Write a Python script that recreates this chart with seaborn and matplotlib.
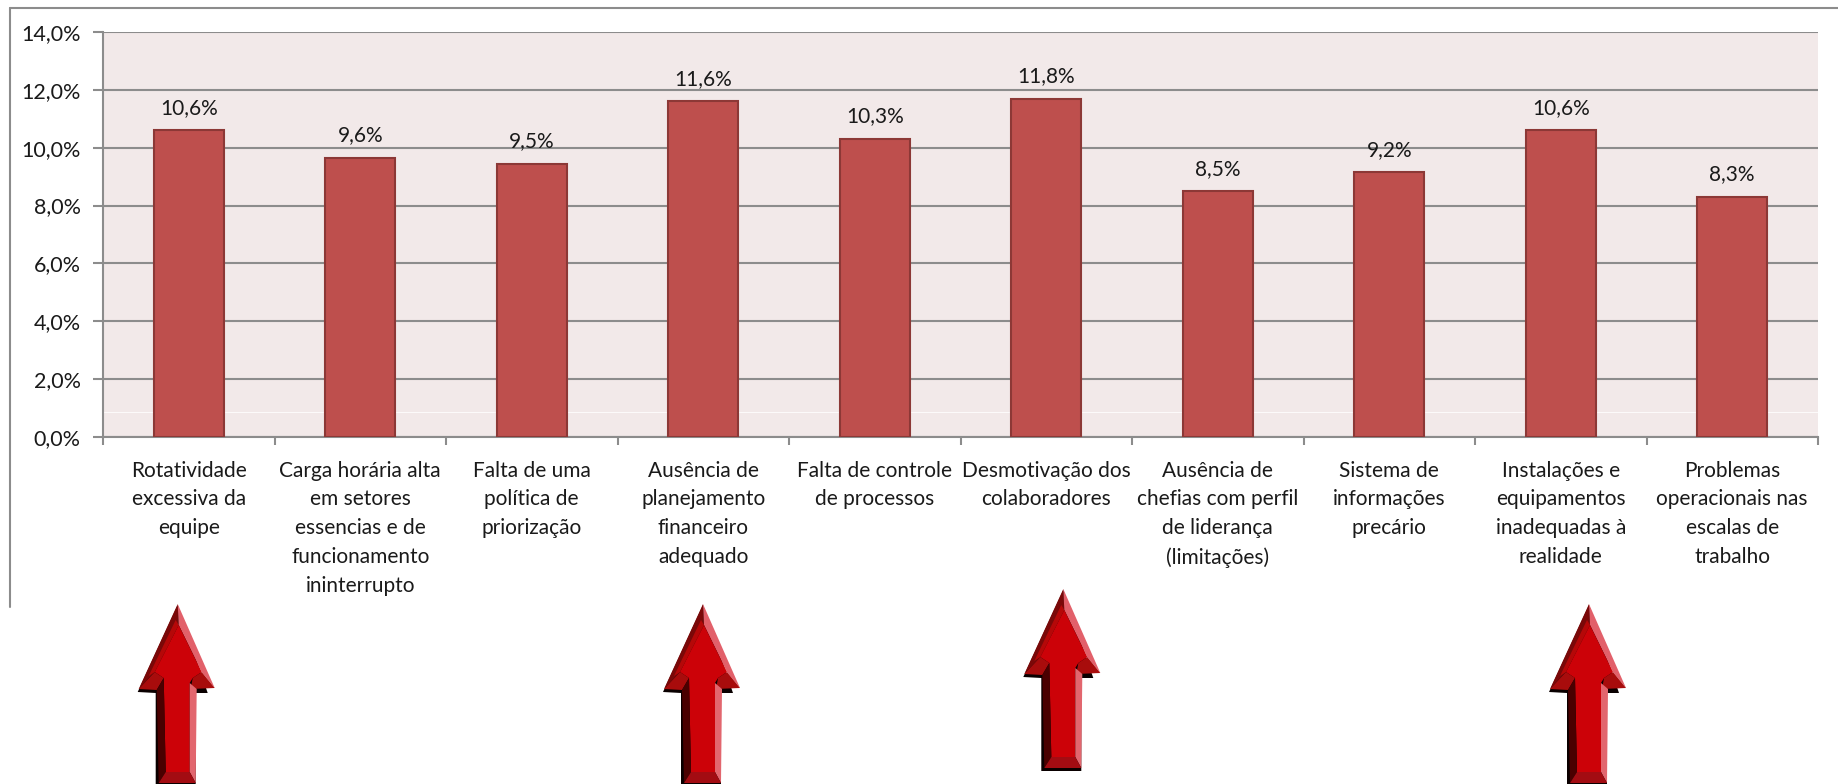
import matplotlib
matplotlib.use("Agg")
import matplotlib.pyplot as plt
import seaborn as sns
from matplotlib.patches import Polygon

categories = [
    "Rotatividade\nexcessiva da\nequipe",
    "Carga horária alta\nem setores\nessencias e de\nfuncionamento\nininterrupto",
    "Falta de uma\npolítica de\npriorização",
    "Ausência de\nplanejamento\nfinanceiro\nadequado",
    "Falta de controle\nde processos",
    "Desmotivação dos\ncolaboradores",
    "Ausência de\nchefias com perfil\nde liderança\n(limitações)",
    "Sistema de\ninformações\nprecário",
    "Instalações e\nequipamentos\ninadequadas à\nrealidade",
    "Problemas\noperacionais nas\nescalas de\ntrabalho",
]
values = [10.6, 9.65, 9.45, 11.6, 10.3, 11.7, 8.5, 9.15, 10.6, 8.3]
value_labels = ["10,6%", "9,6%", "9,5%", "11,6%", "10,3%", "11,8%", "8,5%", "9,2%", "10,6%", "8,3%"]
y_ticks = [0, 2, 4, 6, 8, 10, 12, 14]
y_tick_labels = ["0,0%", "2,0%", "4,0%", "6,0%", "8,0%", "10,0%", "12,0%", "14,0%"]

W, H = 1838, 784
GREY = "#8c8c8c"
TEXT = "#1a1a1a"

sns.set_theme(style="white")
plt.rcParams["font.family"] = ["Lato", "DejaVu Sans"]

fig = plt.figure(figsize=(W / 100, H / 100), dpi=100, facecolor="white")
ax = fig.add_axes([103 / W, 1 - 437 / H, (1818 - 103) / W, (437 - 32) / H])
ax.set_facecolor("#f2e9e9")

sns.barplot(x=list(range(10)), y=values, color="#be4f4d", saturation=1, width=0.41,
            edgecolor="#8c3836", linewidth=1.5, ax=ax, zorder=3)
ax.bar_label(ax.containers[0], labels=value_labels, padding=9, fontsize=15, color=TEXT)

ax.set_xlim(-0.5, 9.5)
ax.set_ylim(0, 14)
ax.set_yticks(y_ticks)
ax.set_yticklabels(y_tick_labels, fontsize=15.5, color=TEXT)
ax.grid(axis="y", color=GREY, linewidth=1.5, zorder=1)
ax.set_axisbelow(True)
# faint seam of the screenshot, behind the bars
ax.axhline(0.86, color="white", lw=0.8, alpha=0.8, zorder=2)

# boundary ticks on x, labels sit on minor ticks at the category centres
ax.set_xticks([i - 0.5 for i in range(11)])
ax.set_xticklabels([])
ax.set_xticks(range(10), labels=categories, minor=True)
ax.tick_params(axis="x", which="major", bottom=True, length=6, width=1.5, color=GREY)
ax.tick_params(axis="x", which="minor", bottom=True, length=0, pad=17, labelsize=15, labelcolor=TEXT)
ax.tick_params(axis="y", left=True, length=7, width=1.5, color=GREY, pad=9)
for lbl in ax.get_xticklabels(minor=True):
    lbl.set_linespacing(1.55)
    lbl.set_verticalalignment("top")

for side in ["top", "right"]:
    ax.spines[side].set_visible(False)
for side in ["left", "bottom"]:
    ax.spines[side].set_color(GREY)
    ax.spines[side].set_linewidth(1.5)

# overlay in pixel coordinates for the frame and the arrows
ov = fig.add_axes([0, 0, 1, 1], zorder=5)
ov.set_xlim(0, W)
ov.set_ylim(H, 0)
ov.axis("off")
ov.patch.set_alpha(0)

ov.plot([10, W], [8, 8], color=GREY, lw=1.5)
ov.plot([10, 10], [8, 607], color=GREY, lw=1.5)


def draw_arrow(tx, ty):
    # facets measured from the tip of the first arrow
    facets = [
        ("#0a0000", [(0, 1), (-40, 88), (-22, 89), (-22, 182), (18, 182), (18, 89), (30, 89), (0, 1)]),
        ("#7a0808", [(0, 0), (-39, 85), (-23, 68), (1, 21)]),
        ("#b50808", [(-2, 16), (-29, 72), (-23, 68), (1, 21)]),
        ("#e2606a", [(0, 0), (37, 84), (24, 68), (1, 21)]),
        ("#a80c0c", [(-39, 85), (-23, 68), (-14, 74), (-21, 86)]),
        ("#a80c0c", [(37, 84), (24, 68), (15, 74), (13, 85)]),
        ("#cc0208", [(1, 21), (-23, 68), (-14, 74), (-12, 168), (12, 168), (12, 79), (15, 74), (24, 68)]),
        ("#4a0000", [(-21, 86), (-14, 74), (-12, 168), (-19, 179)]),
        ("#e2666e", [(12, 79), (19, 85), (18, 179), (12, 168)]),
        ("#a30c12", [(-19, 179), (-12, 168), (12, 168), (18, 179)]),
    ]
    for colour, pts in facets:
        ov.add_patch(Polygon([(tx + px, ty + py) for px, py in pts], closed=True,
                             facecolor=colour, edgecolor="none"))


for tx, ty in [(177.7, 604), (703, 604), (1063.3, 589), (1589, 604)]:
    draw_arrow(tx, ty)

fig.savefig("out.png", dpi=100, facecolor="white")
